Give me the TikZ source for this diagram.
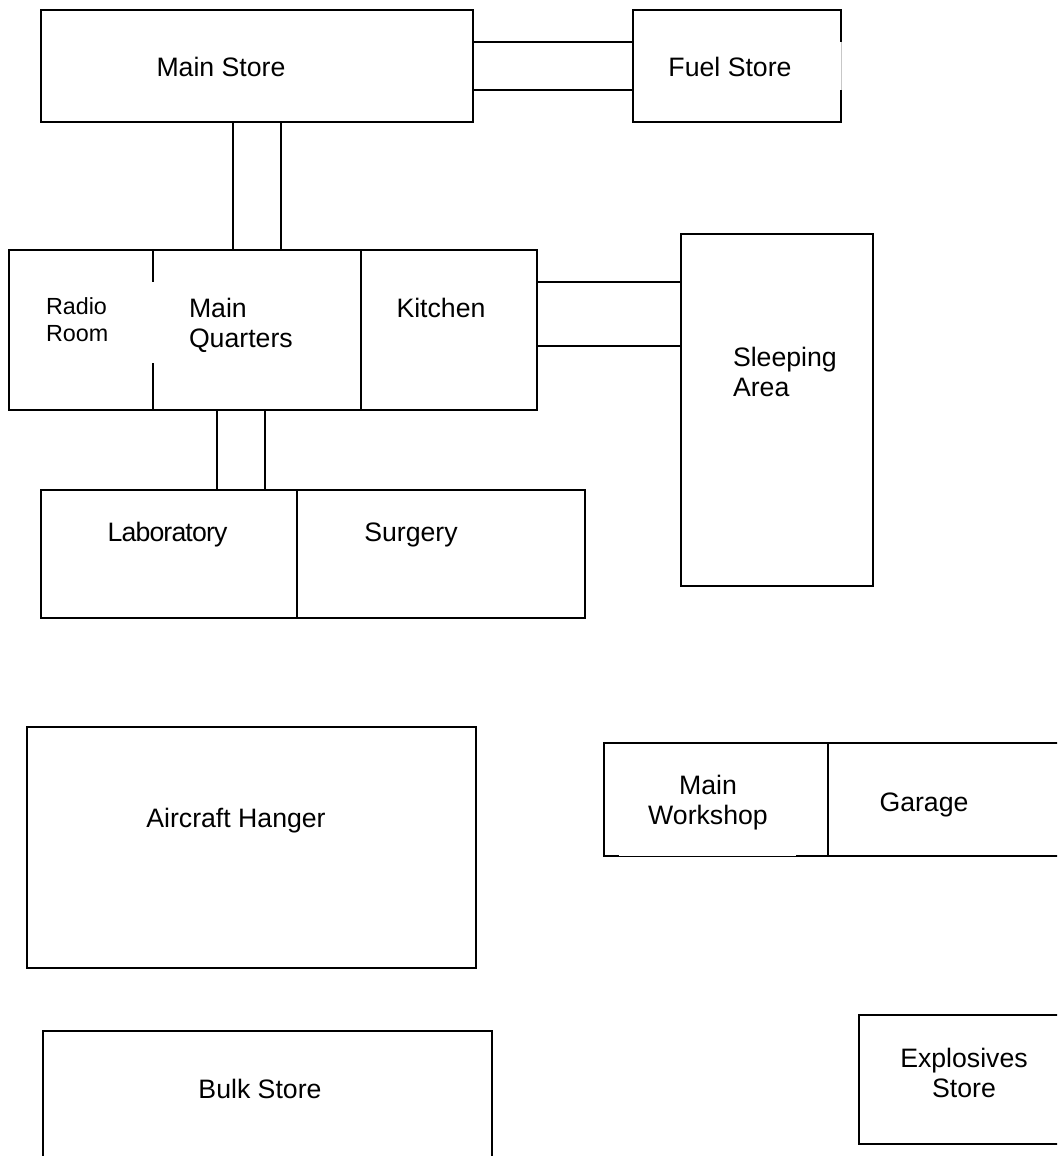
\documentclass[tikz,border=0pt]{standalone}
\usepackage{fontspec}
\setmainfont{Liberation Sans}
\tikzset{
  room/.style={draw=black, line width=1.2pt, fill=none, rectangle, inner sep=0pt, outer sep=0pt},
  corridor/.style={draw=black, line width=1.2pt},
  gapmask/.style={draw=white, line width=2.2pt},
  gapghost/.style={draw=black!22, line width=0.4pt},
  lab/.style={inner sep=0pt, outer sep=0pt, text=black, font=\fontsize{20}{22.5}\selectfont},
  smalllab/.style={lab, font=\fontsize{17.5}{20.25}\selectfont},
}
% room: name, left, top, right, bottom (reference pixels)
\newcommand{\roombox}[5]{%
  \node[room, minimum width=#4*0.75pt-#2*0.75pt, minimum height=#5*0.75pt-#3*0.75pt, anchor=north west] (#1) at (#2,#3) {};}
\begin{document}
\begin{tikzpicture}[x=0.75pt, y=-0.75pt]
\useasboundingbox (0,0) rectangle (1057,1156);
\clip (0,0) rectangle (1057,1156);
% rooms
\roombox{mainstore}{41}{10}{473}{122}
\roombox{fuel}{633}{10}{841}{122}
\roombox{radio}{9}{250}{153}{410}
\roombox{quarters}{153}{250}{361}{410}
\roombox{kitchen}{361}{250}{537}{410}
\roombox{sleeping}{681}{234}{873}{586}
\roombox{laboratory}{41}{490}{297}{618}
\roombox{surgery}{297}{490}{585}{618}
\roombox{hanger}{27}{727}{476}{968}
\roombox{workshop}{604}{743}{828}{856}
\roombox{garage}{828}{743}{1075}{856}
\roombox{explosives}{859}{1015}{1075}{1144}
\roombox{bulk}{43}{1031}{492}{1175}
% corridors
\draw[corridor] ([yshift=18pt]mainstore.east) -- ([yshift=18pt]fuel.west);
\draw[corridor] ([yshift=-18pt]mainstore.east) -- ([yshift=-18pt]fuel.west);
\draw[corridor] ([xshift=-18pt]quarters.north) -- ([xshift=-18pt]quarters.north |- mainstore.south);
\draw[corridor] ([xshift=18pt]quarters.north) -- ([xshift=18pt]quarters.north |- mainstore.south);
\draw[corridor] ([yshift=36pt]kitchen.east) -- ([yshift=36pt]kitchen.east -| sleeping.west);
\draw[corridor] ([yshift=-12pt]kitchen.east) -- ([yshift=-12pt]kitchen.east -| sleeping.west);
\draw[corridor] ([xshift=-30pt]quarters.south) -- ([xshift=-30pt]quarters.south |- laboratory.north);
\draw[corridor] ([xshift=6pt]quarters.south) -- ([xshift=6pt]quarters.south |- laboratory.north);
% openings in the walls
\draw[gapmask] ([yshift=18pt]fuel.east) -- ([yshift=-18pt]fuel.east);
\draw[gapghost] ([yshift=18pt]fuel.east) -- ([yshift=-18pt]fuel.east);
\draw[gapmask] ([yshift=36pt]radio.east) -- ([yshift=-24.75pt]radio.east);
\draw[draw=white, line width=0.8pt] ([xshift=11.25pt,yshift=0.45pt]workshop.south west) -- ([xshift=144pt,yshift=0.45pt]workshop.south west);
% labels
\node[lab] (tmain) at (221,67) {Main Store};
\node[lab] (tfuel) at (730,67) {Fuel Store};
\node[smalllab, align=left, anchor=west] (tradio) at (46,320) {Radio\\Room};
\node[lab, align=left, anchor=west] (tquarters) at (189,325) {Main\\Quarters};
\node[lab] (tkitchen) at (441,308) {Kitchen};
\node[lab, align=left, anchor=west] (tsleeping) at (733,372) {Sleeping\\Area};
\node[lab] (tlab) at (167.5,535) {\addfontfeature{LetterSpace=-3.2}Laboratory};
\node[lab] (tsurgery) at (411,535) {Surgery};
\node[lab] (thanger) at (236,821) {Aircraft Hanger};
\node[lab, align=center] (tworkshop) at (708,803) {Main\\Workshop};
\node[lab] (tgarage) at (924,805) {Garage};
\node[lab, align=center] (texplosives) at (964,1073) {Explosives\\Store};
\node[lab] (tbulk) at (260,1089) {Bulk Store};
\end{tikzpicture}
\end{document}
